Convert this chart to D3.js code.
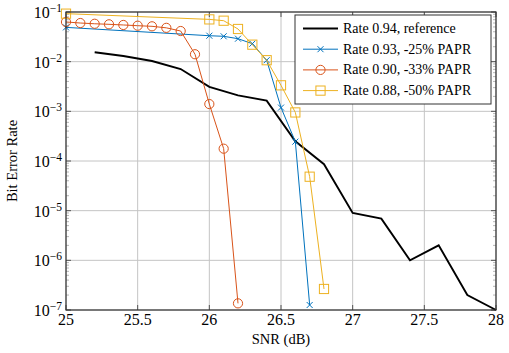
<!DOCTYPE html>
<html><head><meta charset="utf-8">
<script src="https://cdn.jsdelivr.net/npm/d3@7"></script>
<style>body{margin:0;background:#fff}svg{display:block}</style>
</head><body><svg id="c" width="509" height="353"></svg>
<script>
const refX = [25.2,25.4,25.6,25.8,26.0,26.2,26.4,26.6,26.8,27.0,27.2,27.4,27.6,27.8,28.0];
const refY = [0.0155,0.013,0.0103,0.0071,0.0031,0.0021,0.00164,0.00025,0.000086,0.0000090,0.0000069,0.0000010,0.0000020,0.00000020,0.00000010];
const blueX = [25.0,26.0,26.1,26.2,26.3,26.4,26.5,26.6,26.7];
const blueY = [0.049,0.0333,0.0324,0.029,0.023,0.0107,0.00119,0.000245,0.000000126];
const redX = [25.0,25.1,25.2,25.3,25.4,25.5,25.6,25.7,25.8,25.9,26.0,26.1,26.2];
const redY = [0.063,0.060,0.058,0.0565,0.0548,0.053,0.0515,0.048,0.0414,0.0141,0.0014,0.000177,0.000000136];
const yelX = [25.0,26.0,26.1,26.2,26.3,26.4,26.5,26.6,26.7,26.8];
const yelY = [0.0926,0.071,0.0668,0.0455,0.022,0.0107,0.00334,0.00095,0.0000483,0.000000265];
const seriesNames = ["Rate 0.94, reference","Rate 0.93, -25% PAPR","Rate 0.90, -33% PAPR","Rate 0.88, -50% PAPR"];
const xTicks = [25,25.5,26,26.5,27,27.5,28];
const xTickLabels = ["25","25.5","26","26.5","27","27.5","28"];
const yExps = [-1,-2,-3,-4,-5,-6,-7];

const FONT="'Liberation Serif', 'Times New Roman', serif";
const svg = d3.select("#c");
const L=66,R=496,T=12,B=310;
const x = d3.scaleLinear().domain([25,28]).range([L,R]);
const y = d3.scaleLog().domain([1e-7,1e-1]).range([B,T]);
const gridC="#c4c4c4";

const g = svg.append("g");
g.selectAll(".gx").data(xTicks).join("line").attr("x1",d=>x(d)).attr("x2",d=>x(d)).attr("y1",T).attr("y2",B).attr("stroke",gridC).attr("stroke-width",1);
g.selectAll(".gy").data(yExps).join("line").attr("x1",L).attr("x2",R).attr("y1",d=>y(Math.pow(10,d))).attr("y2",d=>y(Math.pow(10,d))).attr("stroke",gridC).attr("stroke-width",1);

const minors=[];
for(let e=-7;e<-1;e++) for(let m=2;m<=9;m++) minors.push(m*Math.pow(10,e));
g.selectAll(".ml").data(minors).join("line").attr("x1",L).attr("x2",L+3).attr("y1",d=>y(d)).attr("y2",d=>y(d)).attr("stroke","#888").attr("stroke-width",0.6);
g.selectAll(".mr").data(minors).join("line").attr("x1",R-3).attr("x2",R).attr("y1",d=>y(d)).attr("y2",d=>y(d)).attr("stroke","#888").attr("stroke-width",0.6);
g.selectAll(".tb").data(xTicks).join("line").attr("x1",d=>x(d)).attr("x2",d=>x(d)).attr("y1",B).attr("y2",B-5).attr("stroke","#555");
g.selectAll(".tt").data(xTicks).join("line").attr("x1",d=>x(d)).attr("x2",d=>x(d)).attr("y1",T).attr("y2",T+5).attr("stroke","#555");
g.selectAll(".tl").data(yExps).join("line").attr("x1",L).attr("x2",L+5).attr("y1",d=>y(Math.pow(10,d))).attr("y2",d=>y(Math.pow(10,d))).attr("stroke","#555");
g.selectAll(".tr").data(yExps).join("line").attr("x1",R-5).attr("x2",R).attr("y1",d=>y(Math.pow(10,d))).attr("y2",d=>y(Math.pow(10,d))).attr("stroke","#555");

svg.selectAll(".xl").data(xTicks).join("text").attr("font-family",FONT).attr("x",d=>x(d)).attr("y",B+15).attr("text-anchor","middle").attr("font-size",16).text((d,i)=>xTickLabels[i]);
const yl = svg.selectAll(".yl").data(yExps).join("text").attr("font-family",FONT).attr("x",62).attr("y",d=>y(Math.pow(10,d))+6).attr("text-anchor","end").attr("font-size",16);
yl.append("tspan").text("10");
yl.append("tspan").attr("dy",-6).attr("font-size",11.5).text(d=>"\u2212"+(-d));

svg.append("text").attr("font-family",FONT).attr("x",x(26.5)).attr("y",344).attr("text-anchor","middle").attr("font-size",14.5).text("SNR (dB)");
svg.append("text").attr("font-family",FONT).attr("transform","translate(17,161) rotate(-90)").attr("text-anchor","middle").attr("font-size",14.5).text("Bit Error Rate");

const cols=["#000000","#0072BD","#D95319","#EDB120"];
const data=[[refX,refY],[blueX,blueY],[redX,redY],[yelX,yelY]];
const line=d3.line().x(d=>x(d[0])).y(d=>y(d[1]));
function marker(sel,k,cx,cy){
  if(k===1){sel.append("path").attr("d",`M${cx-3},${cy-3}L${cx+3},${cy+3}M${cx-3},${cy+3}L${cx+3},${cy-3}`).attr("stroke",cols[1]).attr("stroke-width",1).attr("fill","none");}
  else if(k===2){sel.append("circle").attr("cx",cx).attr("cy",cy).attr("r",4.6).attr("stroke",cols[2]).attr("fill","none").attr("stroke-width",1);}
  else if(k===3){sel.append("rect").attr("x",cx-4.6).attr("y",cy-4.6).attr("width",9.2).attr("height",9.2).attr("stroke",cols[3]).attr("fill","none").attr("stroke-width",1);}
}
data.forEach((s,k)=>{
  const pts=s[0].map((v,i)=>[v,s[1][i]]);
  const gg=svg.append("g");
  gg.append("path").attr("d",line(pts)).attr("fill","none").attr("stroke",cols[k]).attr("stroke-width",k===0?1.9:1);
  if(k>0) pts.forEach(p=>marker(gg,k,x(p[0]),y(p[1])));
});

svg.append("rect").attr("x",L).attr("y",T).attr("width",R-L).attr("height",B-T).attr("fill","none").attr("stroke","#333").attr("stroke-width",1.2);

const lg=svg.append("g");
lg.append("rect").attr("x",295).attr("y",15).attr("width",196).attr("height",89).attr("fill","#fff").attr("stroke","#333").attr("stroke-width",1);
seriesNames.forEach((n,k)=>{
  const yy=28.5+k*20.7;
  lg.append("line").attr("x1",303).attr("x2",338).attr("y1",yy).attr("y2",yy).attr("stroke",cols[k]).attr("stroke-width",k===0?1.9:1);
  marker(lg,k,320.5,yy);
  lg.append("text").attr("font-family",FONT).attr("x",343).attr("y",yy+4.5).attr("font-size",14).text(n);
});
</script></body></html>
